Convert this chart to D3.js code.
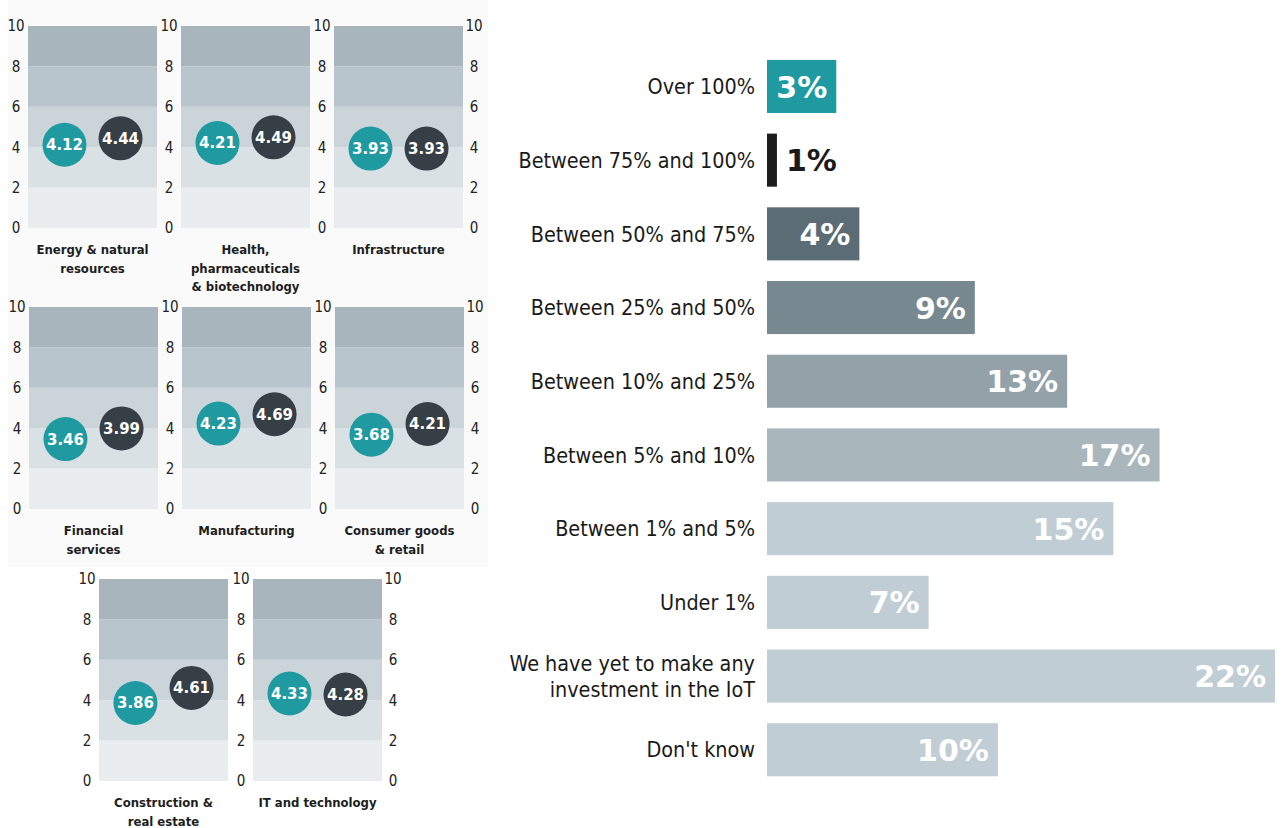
<!DOCTYPE html>
<html>
<head>
<meta charset="utf-8">
<title>IoT investment</title>
<script src="https://cdnjs.cloudflare.com/ajax/libs/d3/7.8.5/d3.min.js"></script>
<style>
body { margin: 0; background: #fff; }
svg { display: block; }
.tick text { font: 15px "DejaVu Sans Condensed", "DejaVu Sans", sans-serif; fill: #222; }
.sector { font: bold 13px "DejaVu Sans Condensed", "DejaVu Sans", sans-serif; fill: #1e1e1e; }
.dot-label { font: bold 15px "DejaVu Sans", sans-serif; fill: #fff; }
.bar-cat { font: 21.4px "DejaVu Sans Condensed", "DejaVu Sans", sans-serif; fill: #1a1a1a; }
.bar-value { font: bold 30px "DejaVu Sans", sans-serif; }
</style>
</head>
<body>
<script>
// small multiples: score out of 10, two groups per sector
var sectorLines = [
  ["Energy & natural", "resources"],
  ["Health,", "pharmaceuticals", "& biotechnology"],
  ["Infrastructure"],
  ["Financial", "services"],
  ["Manufacturing"],
  ["Consumer goods", "& retail"],
  ["Construction &", "real estate"],
  ["IT and technology"]
];
var tealScores = [4.12, 4.21, 3.93, 3.46, 4.23, 3.68, 3.86, 4.33];
var darkScores = [4.44, 4.49, 3.93, 3.99, 4.69, 4.21, 4.61, 4.28];
var scoreTicks = [0, 2, 4, 6, 8, 10];

// bar chart: share of respondents
var barLabels = [
  ["Over 100%"],
  ["Between 75% and 100%"],
  ["Between 50% and 75%"],
  ["Between 25% and 50%"],
  ["Between 10% and 25%"],
  ["Between 5% and 10%"],
  ["Between 1% and 5%"],
  ["Under 1%"],
  ["We have yet to make any", "investment in the IoT"],
  ["Don't know"]
];
var barValues = [3, 0.43, 4, 9, 13, 17, 15, 7, 22, 10];   // drawn lengths
var barText = ["3%", "1%", "4%", "9%", "13%", "17%", "15%", "7%", "22%", "10%"];

var bandColors = ["#e9edf0", "#dae1e5", "#cbd4d9", "#b9c5cc", "#a8b5bc"];
var teal = "#1e9aa0", dark = "#363e46";
var barColors = ["#1f9aa1", "#1c1c1e", "#5b6c74", "#778890", "#93a2a9",
                 "#a9b6bc", "#c1cdd4", "#c1cdd4", "#c1cdd4", "#c1cdd4"];

var svg = d3.select("body").append("svg")
    .attr("width", 1283)
    .attr("height", 828);

svg.append("rect")
    .attr("x", 8).attr("y", 0)
    .attr("width", 480).attr("height", 567)
    .attr("fill", "#fafafa");

// panel layout (left edge, top) for each sector
var panelW = 129, panelH = 202;
var panelPos = [
  [28, 26], [181, 26], [334, 26],
  [29, 307], [182, 307], [335, 307],
  [99, 579], [253, 579]
];
var lastInRow = [2, 5, 7];

var y = d3.scaleLinear().domain([0, 10]).range([panelH, 0]);
var xDot = d3.scalePoint().domain(["teal", "dark"]).range([0, panelW]).padding(0.65);

sectorLines.forEach(function(lines, i) {
  var g = svg.append("g")
      .attr("transform", "translate(" + panelPos[i][0] + "," + panelPos[i][1] + ")");

  g.selectAll(".band")
      .data(d3.pairs(scoreTicks))
    .enter().append("rect")
      .attr("class", "band")
      .attr("x", 0)
      .attr("width", panelW)
      .attr("y", function(d) { return y(d[1]); })
      .attr("height", function(d) { return y(d[0]) - y(d[1]); })
      .attr("fill", function(d, j) { return bandColors[j]; });

  var axis = g.append("g").call(d3.axisLeft(y).tickValues(scoreTicks).tickSize(0));
  axis.select(".domain").remove();
  axis.selectAll("text").attr("x", -12).style("text-anchor", "middle");

  if (lastInRow.indexOf(i) >= 0) {
    var axisR = g.append("g")
        .attr("transform", "translate(" + panelW + ",0)")
        .call(d3.axisRight(y).tickValues(scoreTicks).tickSize(0));
    axisR.select(".domain").remove();
    axisR.selectAll("text").attr("x", 11).style("text-anchor", "middle");
  }

  var dots = [
    {key: "teal", v: tealScores[i], c: teal},
    {key: "dark", v: darkScores[i], c: dark}
  ];
  var dg = g.selectAll(".dot")
      .data(dots)
    .enter().append("g")
      .attr("class", "dot")
      .attr("transform", function(d) { return "translate(" + xDot(d.key) + "," + y(d.v) + ")"; });
  dg.append("circle")
      .attr("r", 22)
      .attr("fill", function(d) { return d.c; });
  dg.append("text")
      .attr("class", "dot-label")
      .attr("text-anchor", "middle")
      .attr("dy", "0.36em")
      .text(function(d) { return d.v.toFixed(2); });

  g.selectAll(".sector")
      .data(lines)
    .enter().append("text")
      .attr("class", "sector")
      .attr("x", panelW / 2)
      .attr("y", function(d, j) { return panelH + 26 + j * 18.5; })
      .attr("text-anchor", "middle")
      .text(function(d) { return d; });
});

// right-hand bar chart
var idx = d3.range(barValues.length);
var yBar = d3.scaleBand().domain(idx).range([49.6, 786.6]).paddingInner(0.28).paddingOuter(0.14);
var xBar = d3.scaleLinear().domain([0, 22]).range([767, 1275]);

var rows = svg.selectAll(".row")
    .data(idx)
  .enter().append("g")
    .attr("class", "row")
    .attr("transform", function(i) { return "translate(0," + yBar(i) + ")"; });

rows.append("rect")
    .attr("x", xBar(0))
    .attr("width", function(i) { return xBar(barValues[i]) - xBar(0); })
    .attr("height", yBar.bandwidth())
    .attr("fill", function(i) { return barColors[i]; });

rows.each(function(i) {
  var lines = barLabels[i];
  var mid = yBar.bandwidth() / 2;
  d3.select(this).selectAll(".bar-cat")
      .data(lines)
    .enter().append("text")
      .attr("class", "bar-cat")
      .attr("x", 755)
      .attr("y", function(d, j) { return mid + (j - (lines.length - 1) / 2) * 26; })
      .attr("dy", "0.36em")
      .attr("text-anchor", "end")
      .text(function(d) { return d; });
});

rows.append("text")
    .attr("class", "bar-value")
    .attr("y", yBar.bandwidth() / 2)
    .attr("dy", "0.37em")
    .text(function(i) { return barText[i]; })
    .each(function(i) {
      var t = d3.select(this);
      var w = this.getComputedTextLength();
      var end = xBar(barValues[i]);
      if (end - xBar(0) > w + 14) {
        t.attr("x", end - 9).attr("text-anchor", "end").attr("fill", "#fff");
      } else {
        t.attr("x", end + 9).attr("text-anchor", "start").attr("fill", "#1a1a1a");
      }
    });
</script>
</body>
</html>
